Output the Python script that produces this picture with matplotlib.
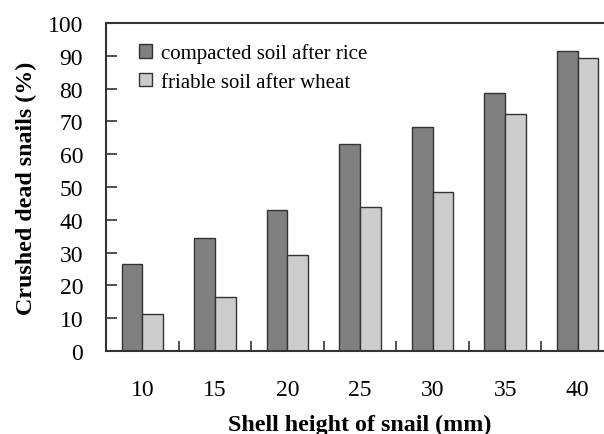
import matplotlib
matplotlib.use("Agg")
import matplotlib.pyplot as plt
import numpy as np

plt.rcParams['font.family'] = ['Liberation Serif', 'DejaVu Serif']

# dados
alturas = ["10", "15", "20", "25", "30", "35", "40"]
compactado = [26.5, 34.3, 43.1, 63.0, 68.3, 78.8, 91.6]
friavel = [11.3, 16.6, 29.3, 43.8, 48.4, 72.3, 89.3]

fig = plt.figure(figsize=(6.04, 4.35), dpi=100)
# o eixo passa da borda direita (figura original cortada)
ax = fig.add_axes([106/604, 83/435, 508/604, 328/435])

x = np.arange(len(alturas))
w = 0.285
ax.bar(x - w/2, compactado, w, color="#808080", edgecolor="#333333", linewidth=1.0,
       label="compacted soil after rice")
ax.bar(x + w/2, friavel, w, color="#cccccc", edgecolor="#333333", linewidth=1.0,
       label="friable soil after wheat")

ax.set_xlim(-0.5, len(alturas) - 0.5)
ax.set_ylim(0, 100)
ax.set_yticks(np.arange(0, 101, 10))
ax.set_xticks(x)
ax.set_xticklabels(alturas)
ax.set_xticks(x[:-1] + 0.5, minor=True)
ax.tick_params(axis="x", which="major", length=0, pad=20, labelsize=17)
ax.tick_params(axis="x", which="minor", direction="in", length=7, width=1.2, color="#333333")
ax.tick_params(axis="y", direction="in", length=8, width=1.2, pad=16.5, labelsize=17, color="#333333")
for s in ax.spines.values():
    s.set_linewidth(1.5)
    s.set_color("#333333")

ax.set_xlabel("Shell height of snail (mm)", fontsize=17.3, fontweight="bold", labelpad=10)
ax.set_ylabel("Crushed dead snails (%)", fontsize=17.3, fontweight="bold", labelpad=8)

ax.legend(loc="upper left", bbox_to_anchor=(0.065, 0.938), frameon=False, fontsize=15,
          borderpad=0, borderaxespad=0,
          handlelength=0.62, handleheight=0.62, handletextpad=0.45, labelspacing=0.45)

fig.savefig("out.png", dpi=100)
